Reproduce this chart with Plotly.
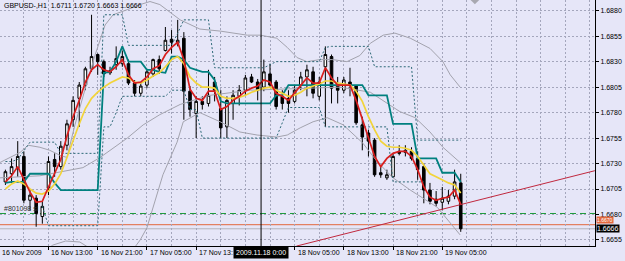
import plotly.graph_objects as go

# ---------------- data (hours relative to 16 Nov 2009 13:00, H1 bars) ----------------
hour = list(range(-7, 68))

opens = [1.6712, 1.6720, 1.6725, 1.6737, 1.6694, 1.6696, 1.6678, 1.6706, 1.6734, 1.6727,
         1.6748, 1.6773, 1.6794, 1.6807, 1.6823, 1.6837, 1.6830, 1.6821, 1.6827, 1.6828,
         1.6828, 1.6809, 1.6799, 1.6807, 1.6818, 1.6832, 1.6841, 1.6852, 1.6848, 1.6853,
         1.6801, 1.6779, 1.6791, 1.6789, 1.6810, 1.6784, 1.6766, 1.6789, 1.6796, 1.6802,
         1.6815, 1.6810, 1.6805, 1.6818, 1.6810, 1.6796, 1.6794, 1.6791, 1.6807, 1.6815,
         1.6820, 1.6796, 1.6825, 1.6835, 1.6808, 1.6802, 1.6810, 1.6806, 1.6768, 1.6760,
         1.6753, 1.6721, 1.6716, 1.6717, 1.6742, 1.6741, 1.6742, 1.6735, 1.6727, 1.6704,
         1.6695, 1.6692, 1.6693, 1.6698, 1.6711]
highs = [1.6724, 1.6735, 1.6752, 1.6742, 1.6704, 1.6699, 1.6693, 1.6737, 1.6740, 1.6752,
         1.6773, 1.6796, 1.6810, 1.6825, 1.6876, 1.6838, 1.6832, 1.6825, 1.6845, 1.6841,
         1.6832, 1.6812, 1.6809, 1.6823, 1.6833, 1.6836, 1.6864, 1.6861, 1.6871, 1.6859,
         1.6806, 1.6796, 1.6796, 1.6822, 1.6815, 1.6802, 1.6796, 1.6802, 1.6807, 1.6817,
         1.6818, 1.6813, 1.6832, 1.6828, 1.6812, 1.6802, 1.6802, 1.6807, 1.6820, 1.6827,
         1.6825, 1.6815, 1.6845, 1.6837, 1.6815, 1.6815, 1.6824, 1.6807, 1.6776, 1.6763,
         1.6755, 1.6727, 1.6724, 1.6740, 1.6748, 1.6748, 1.6746, 1.6742, 1.6730, 1.6711,
         1.6703, 1.6707, 1.6704, 1.6724, 1.6720]
lows = [1.6709, 1.6711, 1.6717, 1.6691, 1.6684, 1.6668, 1.6671, 1.6699, 1.6717, 1.6724,
        1.6743, 1.6766, 1.6766, 1.6802, 1.6820, 1.6817, 1.6815, 1.6817, 1.6822, 1.6825,
        1.6807, 1.6796, 1.6796, 1.6804, 1.6815, 1.6818, 1.6840, 1.6838, 1.6845, 1.6773,
        1.6776, 1.6755, 1.6783, 1.6786, 1.6791, 1.6755, 1.6755, 1.6773, 1.6787, 1.6797,
        1.6809, 1.6792, 1.6801, 1.6805, 1.6783, 1.6783, 1.6780, 1.6789, 1.6802, 1.6796,
        1.6794, 1.6792, 1.6766, 1.6789, 1.6789, 1.6799, 1.6796, 1.6768, 1.6743, 1.6737,
        1.6717, 1.6716, 1.6714, 1.6716, 1.6738, 1.6737, 1.6733, 1.6714, 1.6691, 1.6690,
        1.6688, 1.6684, 1.6690, 1.6695, 1.6663]
closes = [1.6722, 1.6727, 1.6737, 1.6694, 1.6699, 1.6681, 1.6688, 1.6732, 1.6727, 1.6747,
          1.6769, 1.6792, 1.6807, 1.6823, 1.6835, 1.6830, 1.6818, 1.6819, 1.6833, 1.6835,
          1.6809, 1.6799, 1.6806, 1.6820, 1.6832, 1.6823, 1.6851, 1.6849, 1.6851, 1.6801,
          1.6783, 1.6791, 1.6788, 1.6797, 1.6802, 1.6765, 1.6792, 1.6797, 1.6802, 1.6814,
          1.6810, 1.6802, 1.6820, 1.6807, 1.6786, 1.6789, 1.6789, 1.6802, 1.6815, 1.6822,
          1.6799, 1.6810, 1.6837, 1.6804, 1.6802, 1.6812, 1.6807, 1.6770, 1.6756, 1.6752,
          1.6719, 1.6719, 1.6719, 1.6737, 1.6740, 1.6743, 1.6735, 1.6724, 1.6704, 1.6693,
          1.6691, 1.6696, 1.6698, 1.6712, 1.6666]

ma_fast = [1.6712, 1.6718, 1.6727, 1.6715, 1.6702, 1.6692, 1.6693, 1.6707, 1.6720, 1.6734,
           1.6757, 1.6776, 1.6792, 1.6810, 1.6822, 1.6827, 1.6822, 1.6820, 1.6825, 1.6832,
           1.6817, 1.6809, 1.6810, 1.6815, 1.6823, 1.6826, 1.6837, 1.6844, 1.6849, 1.6832,
           1.6803, 1.6794, 1.6792, 1.6801, 1.6801, 1.6783, 1.6786, 1.6792, 1.6796, 1.6801,
           1.6804, 1.6806, 1.6812, 1.6810, 1.6799, 1.6796, 1.6792, 1.6799, 1.6807, 1.6814,
           1.6809, 1.6809, 1.6824, 1.6814, 1.6807, 1.6807, 1.6807, 1.6792, 1.6773, 1.6756,
           1.6737, 1.6727, 1.6735, 1.6740, 1.6742, 1.6742, 1.6737, 1.6724, 1.6707, 1.6697,
           1.6694, 1.6696, 1.6697, 1.6704, 1.6690]
ma_slow = [1.6705, 1.6710, 1.6713, 1.6710, 1.6705, 1.6701, 1.6700, 1.6703, 1.6710, 1.6720,
           1.6736, 1.6753, 1.6769, 1.6784, 1.6794, 1.6800, 1.6805, 1.6809, 1.6812, 1.6815,
           1.6814, 1.6810, 1.6809, 1.6812, 1.6816, 1.6819, 1.6825, 1.6832, 1.6835, 1.6828,
           1.6815, 1.6809, 1.6805, 1.6805, 1.6804, 1.6796, 1.6794, 1.6794, 1.6795, 1.6797,
           1.6800, 1.6802, 1.6804, 1.6805, 1.6802, 1.6799, 1.6796, 1.6797, 1.6800, 1.6804,
           1.6806, 1.6808, 1.6811, 1.6811, 1.6809, 1.6808, 1.6807, 1.6801, 1.6791, 1.6776,
           1.6763, 1.6752, 1.6747, 1.6746, 1.6746, 1.6745, 1.6743, 1.6737, 1.6729, 1.6720,
           1.6717, 1.6714, 1.6711, 1.6709, 1.6701]
trend_mid = [1.6711, 1.6712, 1.6712, 1.6712, 1.6720, 1.6720, 1.6720, 1.6720, 1.6711, 1.6704,
             1.6704, 1.6704, 1.6704, 1.6704, 1.6704, 1.6704, 1.6819, 1.6820, 1.6830, 1.6845,
             1.6830, 1.6830, 1.6830, 1.6822, 1.6822, 1.6820, 1.6819, 1.6835, 1.6835, 1.6832,
             1.6824, 1.6822, 1.6820, 1.6820, 1.6812, 1.6791, 1.6789, 1.6789, 1.6789, 1.6789,
             1.6789, 1.6789, 1.6789, 1.6789, 1.6797, 1.6797, 1.6807, 1.6807, 1.6807, 1.6807,
             1.6807, 1.6807, 1.6807, 1.6807, 1.6807, 1.6807, 1.6807, 1.6807, 1.6807, 1.6797,
             1.6797, 1.6797, 1.6797, 1.6769, 1.6769, 1.6769, 1.6769, 1.6735, 1.6735, 1.6735,
             1.6735, 1.6721, 1.6721, 1.6721, 1.6712]
chan_upper = [1.6732, 1.6732, 1.6734, 1.6742, 1.6751, 1.6751, 1.6751, 1.6751, 1.6751, 1.6740,
              1.6740, 1.6740, 1.6740, 1.6740, 1.6740, 1.6740, 1.6876, 1.6876, 1.6876, 1.6876,
              1.6846, 1.6846, 1.6846, 1.6846, 1.6846, 1.6846, 1.6846, 1.6846, 1.6858, 1.6871,
              1.6871, 1.6871, 1.6871, 1.6871, 1.6824, 1.6824, 1.6824, 1.6824, 1.6824, 1.6824,
              1.6824, 1.6824, 1.6824, 1.6827, 1.6830, 1.6830, 1.6830, 1.6830, 1.6830, 1.6830,
              1.6830, 1.6830, 1.6844, 1.6845, 1.6845, 1.6845, 1.6845, 1.6845, 1.6845, 1.6845,
              1.6825, 1.6825, 1.6825, 1.6825, 1.6825, 1.6825, 1.6825, 1.6753, 1.6753, 1.6753,
              1.6753, 1.6753, 1.6753, 1.6753, 1.6753]
chan_lower_hour = list(range(-1, 62))
chan_lower = [1.6688, 1.6669, 1.6669, 1.6669, 1.6669, 1.6669, 1.6669, 1.6669, 1.6669, 1.6669,
              1.6766, 1.6766, 1.6780, 1.6796, 1.6796, 1.6796, 1.6796, 1.6796, 1.6796, 1.6796,
              1.6796, 1.6802, 1.6802, 1.6802, 1.6783, 1.6783, 1.6755, 1.6755, 1.6755, 1.6755,
              1.6755, 1.6755, 1.6755, 1.6755, 1.6755, 1.6755, 1.6755, 1.6755, 1.6755, 1.6770,
              1.6785, 1.6785, 1.6785, 1.6785, 1.6785, 1.6785, 1.6766, 1.6766, 1.6766, 1.6766,
              1.6766, 1.6766, 1.6766, 1.6766, 1.6766, 1.6766, 1.6766, 1.6712, 1.6712, 1.6712,
              1.6712, 1.6712, 1.6712]

band_up_hour = [-7.9, -6.3, -4.6, -3.3, -1.4, 0.2, 1.9, 3.0, 4.3, 5.9, 7.6, 9.2, 10.5, 12.8,
                14.9, 16.5, 18.1, 21.4, 24.6, 27.9, 32.3, 34.4, 37.1, 38.8, 40.4, 42.0, 44.1,
                46.2, 48.5, 50.6, 52.3, 54.4, 56.3, 58.8, 60.4, 62.0, 64.1, 65.3, 66.9]
band_up = [1.6731, 1.6736, 1.6741, 1.6748, 1.6746, 1.6743, 1.6738, 1.6736, 1.6768, 1.6802,
           1.6837, 1.6866, 1.6876, 1.6881, 1.6886, 1.6889, 1.6886, 1.6871, 1.6862, 1.6860,
           1.6856, 1.6856, 1.6853, 1.6844, 1.6834, 1.6830, 1.6832, 1.6832, 1.6830, 1.6836,
           1.6848, 1.6856, 1.6858, 1.6853, 1.6848, 1.6843, 1.6830, 1.6817, 1.6805]
band_mid_hour = [-7.9, -1.4, 5.6, 8.4, 12.8, 15.4, 18.1, 21.4, 24.6, 26.3, 32.8, 40.9, 47.4,
                 52.3, 57.1, 59.6, 62.0, 64.1, 66.9]
band_mid = [1.6716, 1.6718, 1.6726, 1.6736, 1.6755, 1.6768, 1.6778, 1.6788, 1.6794, 1.6797,
            1.6802, 1.6804, 1.6805, 1.6800, 1.6781, 1.6775, 1.6761, 1.6746, 1.6731]
band_lo_hour = [-3.0, 0.7, 2.8, 5.1, 7.2, 9.2, 12.8, 14.9, 16.0, 18.6, 20.9, 21.9, 24.6, 27.9,
                31.1, 33.9, 37.1, 38.8, 40.9, 43.0, 45.3, 47.9, 51.1, 53.4, 56.0, 58.8, 63.2,
                65.3, 66.9]
band_lo = [1.6633, 1.6650, 1.6654, 1.6653, 1.6645, 1.6633, 1.6638, 1.6655, 1.6667, 1.6719,
           1.6751, 1.6771, 1.6780, 1.6771, 1.6761, 1.6758, 1.6756, 1.6758, 1.6765, 1.6771,
           1.6775, 1.6768, 1.6750, 1.6732, 1.6716, 1.6704, 1.6687, 1.6672, 1.6660]

trend_hour = [40.3, 88.8]
trend_price = [1.6649, 1.6723]
stop_level = 1.6681
order_level = 1.6670
bid_level = 1.6666
cursor_hour = 34.55
arrow_hour = [69.3]
arrow_price = [1.6892]

x_tick_hours = [0, 8, 16, 24, 40, 48, 56, 64]
x_tick_labels = ["16 Nov 13:00", "16 Nov 21:00", "17 Nov 05:00", "17 Nov 13:",
                 "18 Nov 05:00", "18 Nov 13:00", "18 Nov 21:00", "19 Nov 05:00"]
y_ticks = [1.6655, 1.6680, 1.6705, 1.6730, 1.6755, 1.6780, 1.6805, 1.6830, 1.6855, 1.6880]

# ---------------- styling ----------------
BG = "#E6E6F8"
GRID = "#A4A6BC"
FONT = "Liberation Sans"

fig = go.Figure()

fig.add_trace(go.Candlestick(
    x=hour, open=opens, high=highs, low=lows, close=closes,
    increasing=dict(line=dict(color="black", width=1), fillcolor="white"),
    decreasing=dict(line=dict(color="black", width=1), fillcolor="black"),
    whiskerwidth=0, hoverinfo="skip"))

for hx, hy in [(band_up_hour, band_up), (band_mid_hour, band_mid), (band_lo_hour, band_lo)]:
    fig.add_trace(go.Scatter(x=hx, y=hy, mode="lines",
                             line=dict(color="#A3A3AE", width=1), hoverinfo="skip"))

fig.add_trace(go.Scatter(x=hour, y=chan_upper, mode="lines",
                         line=dict(color="#2E6A78", width=1, dash="2px,2px"), hoverinfo="skip"))
fig.add_trace(go.Scatter(x=chan_lower_hour, y=chan_lower, mode="lines",
                         line=dict(color="#2E6A78", width=1, dash="2px,2px"), hoverinfo="skip"))
fig.add_trace(go.Scatter(x=hour, y=trend_mid, mode="lines",
                         line=dict(color="#00807F", width=1.8), hoverinfo="skip"))
fig.add_trace(go.Scatter(x=hour, y=ma_slow, mode="lines",
                         line=dict(color="#F2D43A", width=1.7), hoverinfo="skip"))
fig.add_trace(go.Scatter(x=hour, y=ma_fast, mode="lines",
                         line=dict(color="#D81E1E", width=1.7), hoverinfo="skip"))
fig.add_trace(go.Scatter(x=trend_hour, y=trend_price, mode="lines",
                         line=dict(color="#C0283E", width=1), hoverinfo="skip"))
fig.add_trace(go.Scatter(x=arrow_hour, y=arrow_price, mode="markers",
                         marker=dict(symbol="diamond", size=9, color="#A8A8B0"),
                         hoverinfo="skip"))

shapes = [
    dict(type="line", xref="paper", x0=0, x1=1, yref="y", y0=stop_level, y1=stop_level,
         line=dict(color="#1E9A3C", width=1, dash="6px,4px"), layer="between"),
    dict(type="line", xref="paper", x0=0, x1=1, yref="y", y0=order_level, y1=order_level,
         line=dict(color="#E2683E", width=1), layer="between"),
    dict(type="line", xref="paper", x0=0, x1=1, yref="y", y0=bid_level, y1=bid_level,
         line=dict(color="#B4B4BC", width=1), layer="between"),
    dict(type="line", xref="x", x0=cursor_hour, x1=cursor_hour, yref="paper", y0=0, y1=1,
         line=dict(color="black", width=1), layer="above"),
]

annotations = [
    dict(text="GBPUSD-,H1  1.6711 1.6720 1.6663 1.6666", xref="paper", yref="paper",
         x=0.004, y=1, xanchor="left", yanchor="top", showarrow=False,
         font=dict(family=FONT, size=7, color="black")),
    dict(text="#801098 sl", xref="paper", yref="y", x=0.003, y=stop_level + 0.00045,
         xanchor="left", yanchor="middle", showarrow=False,
         font=dict(family=FONT, size=7, color="#303030")),
    dict(text="16 Nov 2009", xref="paper", yref="paper", x=0, y=-0.025, xanchor="left",
         yanchor="middle", showarrow=False, font=dict(family=FONT, size=7, color="black")),
]
for hx, lab in zip(x_tick_hours, x_tick_labels):
    annotations.append(dict(text=lab, xref="x", yref="paper", x=hx, y=-0.025,
                            xanchor="left", yanchor="middle", xshift=1, showarrow=False,
                            font=dict(family=FONT, size=7, color="black")))
annotations.append(dict(text="2009.11.18 0:00", xref="x", yref="paper", x=cursor_hour,
                        y=-0.028, xanchor="center", yanchor="middle", showarrow=False,
                        bgcolor="black", borderpad=2,
                        font=dict(family=FONT, size=7, color="white")))
annotations.append(dict(text="1.6670", xref="paper", yref="y", x=1, y=bid_level,
                        xanchor="left", yanchor="bottom", xshift=1, yshift=4.5,
                        showarrow=False, bgcolor="#E2683E", borderpad=0,
                        font=dict(family=FONT, size=5, color="white")))
annotations.append(dict(text="1.6666", xref="paper", yref="y", x=1, y=bid_level,
                        xanchor="left", yanchor="middle", xshift=1, showarrow=False,
                        bgcolor="black", borderpad=0,
                        font=dict(family=FONT, size=7, color="white")))

fig.update_layout(
    width=625, height=261, margin=dict(l=0, r=30, t=0, b=15),
    paper_bgcolor=BG, plot_bgcolor=BG, showlegend=False, boxgap=0.4,
    shapes=shapes, annotations=annotations,
    xaxis=dict(range=[-7.88, 88.82], rangeslider=dict(visible=False), zeroline=False,
               tickmode="array", tickvals=[-8] + x_tick_hours + [32], showticklabels=False,
               ticks="outside", ticklen=3, tickcolor="black",
               showgrid=True, gridcolor=GRID, griddash="2px,2px", gridwidth=1,
               minor=dict(tick0=0, dtick=4, showgrid=True, gridcolor=GRID,
                          griddash="2px,2px", ticks=""),
               showline=True, linecolor="black", linewidth=1, fixedrange=True),
    yaxis=dict(range=[1.66491, 1.68905], side="right", zeroline=False,
               tickmode="array", tickvals=y_ticks, ticktext=[f"{v:.4f}" for v in y_ticks],
               ticks="outside", ticklen=3, tickcolor="black",
               tickfont=dict(family=FONT, size=7, color="black"),
               showgrid=True, gridcolor=GRID, griddash="2px,2px", gridwidth=1,
               showline=True, linecolor="black", linewidth=1, fixedrange=True),
)

fig.write_html("out.html")
